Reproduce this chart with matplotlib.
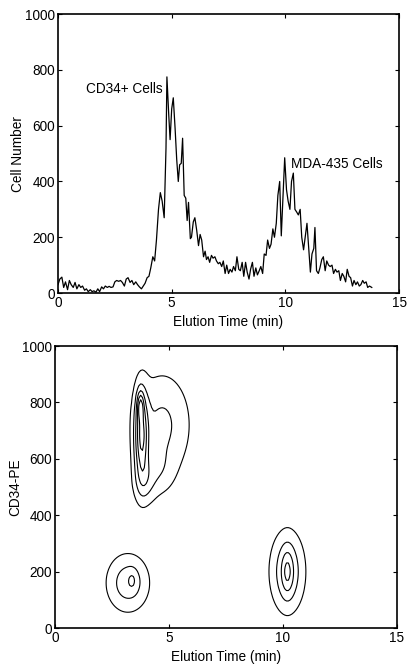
import matplotlib
matplotlib.use("Agg")
import matplotlib.pyplot as plt
import numpy as np

plt.rcParams['font.family'] = ['Liberation Sans', 'DejaVu Sans']
plt.rcParams['font.size'] = 9.8

# elution profile (min, cell number)
elution_time = [0.0, 0.08, 0.17, 0.25, 0.33, 0.42, 0.5, 0.58, 0.67, 0.75, 0.83, 0.92, 1.0, 1.08,
                1.17, 1.25, 1.33, 1.42, 1.5, 1.58, 1.67, 1.75, 1.83, 1.92, 2.0, 2.08, 2.17, 2.25,
                2.33, 2.42, 2.5, 2.58, 2.67, 2.75, 2.83, 2.92, 3.0, 3.08, 3.17, 3.25, 3.33, 3.42,
                3.5, 3.58, 3.67, 3.75, 3.83, 3.92, 4.0, 4.08, 4.17, 4.25, 4.33, 4.42, 4.5, 4.58,
                4.67, 4.75, 4.79, 4.87, 4.93, 5.0, 5.07, 5.15, 5.22, 5.29, 5.35, 5.42, 5.48, 5.55,
                5.62, 5.68, 5.74, 5.82, 5.87, 5.95, 6.02, 6.1, 6.18, 6.25, 6.32, 6.4, 6.47, 6.53,
                6.6, 6.67, 6.75, 6.82, 6.9, 6.97, 7.05, 7.12, 7.2, 7.27, 7.35, 7.42, 7.5, 7.57,
                7.65, 7.72, 7.8, 7.87, 7.95, 8.02, 8.1, 8.17, 8.25, 8.32, 8.4, 8.47, 8.55, 8.62,
                8.7, 8.77, 8.85, 8.92, 9.0, 9.07, 9.15, 9.22, 9.3, 9.37, 9.45, 9.52, 9.6, 9.67,
                9.75, 9.82, 9.9, 9.97, 10.05, 10.12, 10.2, 10.27, 10.35, 10.42, 10.5, 10.57,
                10.65, 10.72, 10.8, 10.87, 10.95, 11.02, 11.1, 11.17, 11.25, 11.3, 11.37, 11.45,
                11.52, 11.6, 11.67, 11.75, 11.82, 11.9, 11.97, 12.05, 12.12, 12.2, 12.27, 12.35,
                12.42, 12.5, 12.57, 12.65, 12.72, 12.8, 12.87, 12.95, 13.02, 13.1, 13.17, 13.25,
                13.32, 13.4, 13.47, 13.55, 13.62, 13.7, 13.8]
cell_number = [30, 50, 57, 20, 40, 12, 45, 30, 20, 38, 15, 30, 20, 25,
               10, 15, 5, 12, 5, 8, 3, 15, 5, 22, 15, 25, 20, 24,
               20, 22, 40, 45, 42, 45, 38, 25, 50, 55, 38, 45, 30, 40,
               30, 22, 15, 25, 35, 55, 60, 90, 130, 115, 190, 300, 360, 330,
               270, 520, 775, 640, 550, 660, 700, 590, 480, 400, 460, 465, 555, 350,
               340, 260, 325, 195, 200, 255, 270, 225, 170, 210, 190, 130, 150, 120,
               130, 110, 135, 125, 130, 115, 105, 110, 95, 115, 70, 100, 70, 85,
               75, 95, 80, 130, 85, 80, 110, 60, 110, 75, 50, 85, 110, 60,
               90, 65, 80, 95, 70, 140, 135, 190, 160, 175, 230, 200, 250, 350,
               400, 205, 350, 485, 370, 330, 300, 400, 430, 300, 290, 280,
               300, 200, 155, 200, 250, 170, 75, 140, 160, 235, 80, 70,
               90, 120, 130, 80, 115, 100, 95, 100, 70, 85, 75, 80,
               45, 70, 60, 40, 85, 60, 55, 25, 45, 30, 40, 25,
               30, 45, 35, 40, 20, 25, 20]

# cell populations in the CD34-PE map: centre time, centre PE, spread in time, spread in PE, weight
pop_time = [3.8, 3.75, 4.7, 3.95, 4.5, 3.2, 3.4, 10.2, 10.2]
pop_pe = [680, 790, 720, 520, 560, 160, 170, 200, 200]
pop_sd_time = [0.2, 0.1, 0.75, 0.3, 0.45, 0.55, 0.15, 0.45, 0.18]
pop_sd_pe = [100, 35, 110, 50, 55, 60, 25, 85, 55]
pop_weight = [1.0, 0.6, 0.35, 0.3, 0.2, 0.45, 0.2, 0.5, 0.4]
contour_levels = [0.1, 0.3, 0.55, 0.8, 1.05]

fig = plt.figure(figsize=(4.07, 6.64), dpi=100)

def style(ax):
    ax.tick_params(direction='in', top=True, right=True, length=3, width=0.8, labelsize=9.8, pad=2)
    for s in ax.spines.values():
        s.set_linewidth(1.2)

# top: elution profile
ax1 = fig.add_axes([0.1425, 0.5587, 0.838, 0.420])
ax1.plot(elution_time, cell_number, color='black', linewidth=0.9)
ax1.set_xlim(0, 15)
ax1.set_ylim(0, 1000)
ax1.set_xticks([0, 5, 10, 15])
ax1.set_yticks([0, 200, 400, 600, 800, 1000])
ax1.set_xlabel('Elution Time (min)', labelpad=4)
ax1.set_ylabel('Cell Number', labelpad=0)
ax1.text(4.6, 730, 'CD34+ Cells', ha='right', va='center')
ax1.text(10.25, 462, 'MDA-435 Cells', ha='left', va='center')
style(ax1)

# bottom: contour map
tx = np.arange(0, 15.01, 0.08)
pe = np.arange(0, 1001, 8)
T, P = np.meshgrid(tx, pe)
Z = np.zeros_like(T)
for cx, cy, sx, sy, w in zip(pop_time, pop_pe, pop_sd_time, pop_sd_pe, pop_weight):
    Z += w * np.exp(-0.5 * (((T - cx) / sx) ** 2 + ((P - cy) / sy) ** 2))

ax2 = fig.add_axes([0.135, 0.0542, 0.840, 0.4247])
ax2.contour(T, P, Z, levels=contour_levels, colors='black', linewidths=0.8)
ax2.set_xlim(0, 15)
ax2.set_ylim(0, 1000)
ax2.set_xticks([0, 5, 10, 15])
ax2.set_yticks([0, 200, 400, 600, 800, 1000])
ax2.set_xlabel('Elution Time (min)', labelpad=4)
ax2.set_ylabel('CD34-PE', labelpad=0)
style(ax2)

fig.savefig('out.png', dpi=100)
